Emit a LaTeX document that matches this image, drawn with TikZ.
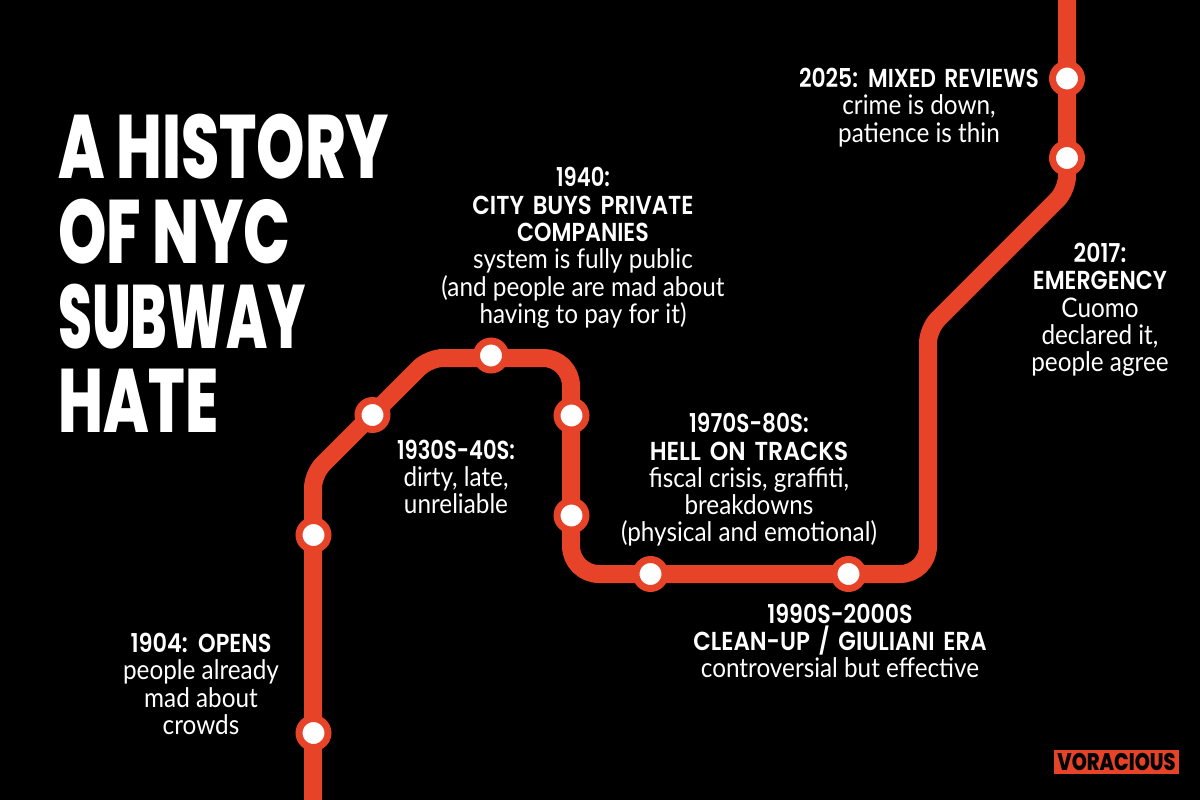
\documentclass[tikz,border=0pt]{standalone}
\usepackage{fontspec}
\setmainfont{Lato}
\newfontfamily\bodyf[FakeStretch=0.90]{Lato}
\newfontfamily\headf[FakeStretch=0.88,UprightFont={* SemiBold},WordSpace=1.6]{Poppins}
\newfontfamily\titlef[FakeStretch=0.82,UprightFont={* ExtraBold}]{Poppins}
\definecolor{rail}{HTML}{E64328}
\newcommand{\hd}[2][1]{{\headf\fontsize{26}{27}\selectfont\scalebox{#1}[1]{#2}}}
\tikzset{
  caption/.style={text=white,align=center,inner sep=0pt,font=\bodyf\fontsize{27}{27.3}\selectfont},
  titleline/.style={text=white,anchor=base west,inner sep=0pt,font=\titlef\fontsize{90}{90}\selectfont},
  stop/.style={circle,fill=white,draw=rail,line width=7pt,minimum size=29pt,inner sep=0pt},
  railline/.style={draw=rail,line width=18pt}
}
\begin{document}
\begin{tikzpicture}[x=1pt,y=-1pt]
\fill[black] (0,0) rectangle (1200,800);
\useasboundingbox (0,0) rectangle (1200,800);
\begin{scope}
\clip (0,0) rectangle (1200,800);
\draw[railline,rounded corners=14pt] (313,815) -- (313,474) -- (429,358) [rounded corners=28pt] -- (571,358) -- (571,574) -- (928,574) [rounded corners=14pt] -- (928,329) -- (1067,190) -- (1067,-15);
\end{scope}
\node[stop] (s1) at (313.5,733) {};
\node[stop] (s2) at (313.5,535) {};
\node[stop] (s3) at (372.5,415) {};
\node[stop] (s4) at (491,355.5) {};
\node[stop] (s5) at (571.5,415.5) {};
\node[stop] (s6) at (571.5,515.5) {};
\node[stop] (s7) at (650.5,574) {};
\node[stop] (s8) at (848.5,574) {};
\node[stop] (s9) at (1067,158) {};
\node[stop] (s10) at (1067,78.5) {};
\node[titleline] (t1) at (58,178) {\scalebox{.835}[1]{A HISTORY}};
\node[titleline] (t2) at (58,263) {\scalebox{.835}[1]{OF NYC}};
\node[titleline] (t3) at (58,348) {\scalebox{.74}[1]{SUBWAY}};
\node[titleline] (t4) at (58,432) {\scalebox{.82}[1]{HATE}};
\node[caption] (c1) at (201,684) {\hd[.98]{1904: OPENS}\\people already\\mad about\\crowds};
\node[caption] (c2) at (456,477) {\hd[.92]{1930S-40S:}\\dirty, late,\\unreliable};
\node[caption] (c3) at (583,248) {\hd[.92]{1940:}\\\hd{CITY BUYS PRIVATE}\\\hd[.97]{COMPANIES}\\system is fully public\\(and people are mad about\\having to pay for it)};
\node[caption] (c4) at (749,480) {\hd[.945]{1970S-80S:}\\\hd[1.03]{HELL ON TRACKS}\\fiscal crisis, graffiti,\\breakdowns\\(physical and emotional)};
\node[caption] (c5) at (840,641) {\hd[.967]{1990S-2000S}\\\hd{CLEAN-UP / GIULIANI ERA}\\controversial but effective};
\node[caption] (c6) at (1100,310) {\hd[.96]{2017:}\\\hd[.97]{EMERGENCY}\\Cuomo\\declared it,\\people agree};
\node[caption] (c7) at (919,107.5) {\hd[.955]{2025: MIXED REVIEWS}\\crime is down,\\patience is thin};
\node[fill=rail,text=black,minimum width=125pt,minimum height=24pt,inner sep=0pt,font=\titlef\fontsize{24}{24}\selectfont] (logo) at (1116.5,762) {\scalebox{.98}[1]{VORACIOUS}};
\end{tikzpicture}
\end{document}
